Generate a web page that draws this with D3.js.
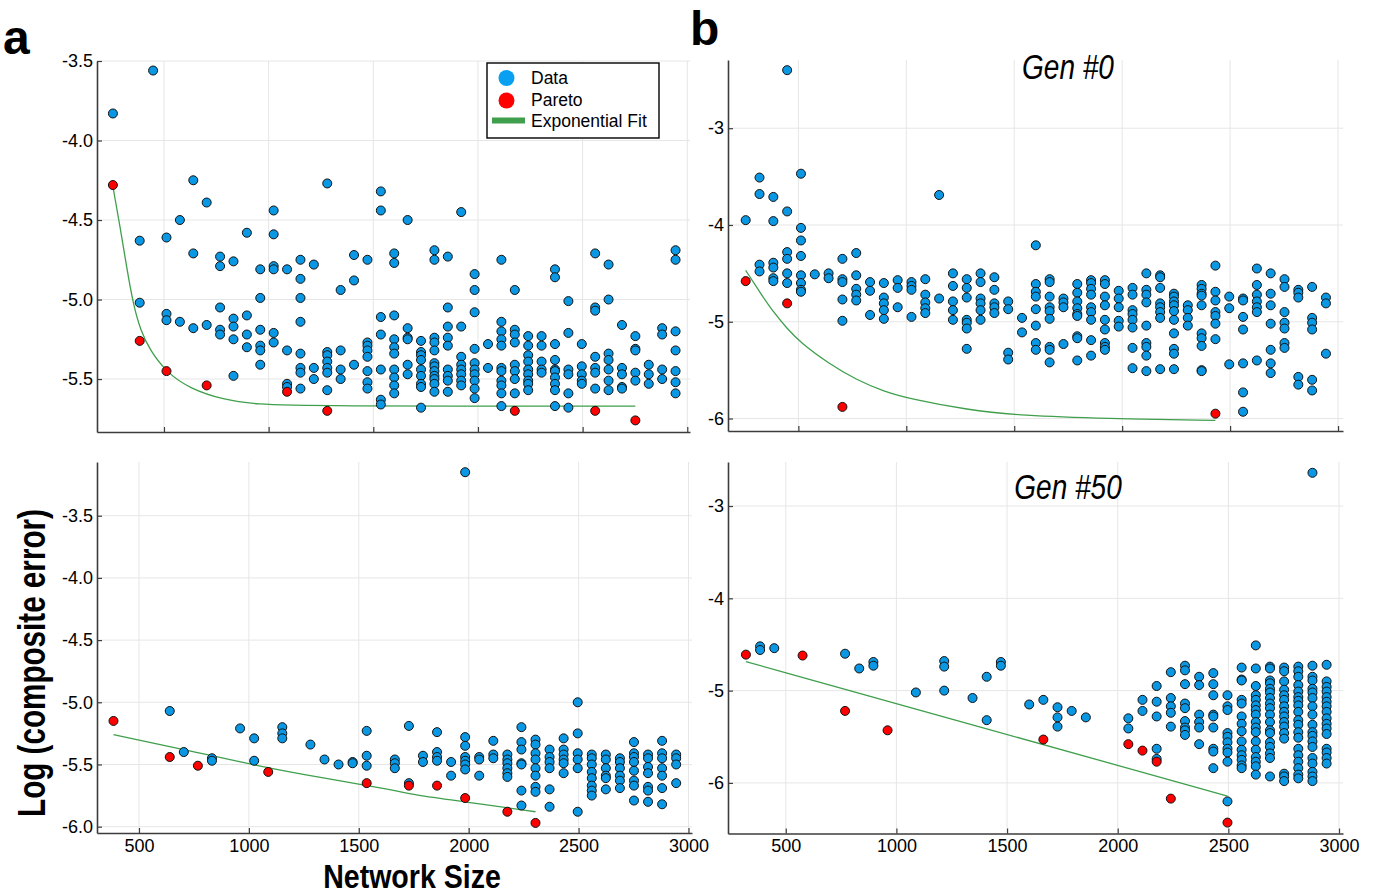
<!DOCTYPE html>
<html>
<head>
<meta charset="utf-8">
<script src="https://cdn.jsdelivr.net/npm/d3@7"></script>
<style>
  html, body { margin: 0; padding: 0; background: #fff; }
  svg { display: block; font-family: "Liberation Sans", Arial, Helvetica, sans-serif; }
</style>
</head>
<body>
<svg id="fig" width="1383" height="896"></svg>
<script>
// ---------- tick values ----------
const sizeTicks = [500, 1000, 1500, 2000, 2500, 3000];
const halfStepTicks = [-6.0, -5.5, -5.0, -4.5, -4.0, -3.5];
const unitTicks = [-6, -5, -4, -3];

// ---------- panel a, upper: [network size, [log composite error ...]] ----------
const aUpperData = [
  [256, [-3.83]],
  [384, [-4.63, -5.02]],
  [448, [-3.56]],
  [512, [-4.61, -5.09, -5.13]],
  [576, [-4.50, -5.14]],
  [640, [-4.25, -4.71, -5.18]],
  [704, [-4.39, -5.16]],
  [768, [-4.73, -4.79, -5.05, -5.19, -5.22]],
  [832, [-4.76, -5.12, -5.17, -5.25, -5.48]],
  [896, [-4.58, -5.10, -5.22, -5.30]],
  [960, [-4.81, -4.99, -5.19, -5.29, -5.32, -5.41]],
  [1024, [-4.44, -4.59, -4.79, -4.81, -5.21, -5.27]],
  [1088, [-4.81, -5.32, -5.53, -5.55]],
  [1152, [-4.75, -4.87, -4.99, -5.14, -5.34, -5.43, -5.46, -5.56]],
  [1216, [-4.78, -5.43, -5.50]],
  [1280, [-4.27, -5.33, -5.35, -5.39, -5.43, -5.46, -5.57]],
  [1344, [-4.94, -5.32, -5.44, -5.50]],
  [1408, [-4.72, -4.88, -5.41]],
  [1472, [-4.75, -5.27, -5.29, -5.32, -5.36, -5.45, -5.52, -5.56]],
  [1536, [-4.32, -4.44, -5.11, -5.22, -5.44, -5.63, -5.66]],
  [1600, [-4.71, -4.77, -5.10, -5.25, -5.30, -5.34, -5.44, -5.49, -5.54, -5.59]],
  [1664, [-4.50, -5.18, -5.24, -5.25, -5.41, -5.47]],
  [1728, [-5.26, -5.33, -5.35, -5.38, -5.44, -5.48, -5.53, -5.55, -5.68]],
  [1792, [-4.69, -4.75, -5.24, -5.27, -5.32, -5.40, -5.42, -5.45, -5.48, -5.50, -5.53, -5.58]],
  [1856, [-4.73, -5.05, -5.17, -5.24, -5.29, -5.44, -5.48, -5.51, -5.58]],
  [1920, [-4.45, -5.17, -5.36, -5.41, -5.44, -5.47, -5.51, -5.54]],
  [1984, [-4.84, -4.94, -5.08, -5.31, -5.40, -5.44, -5.47, -5.51, -5.56, -5.62]],
  [2048, [-5.28, -5.43]],
  [2112, [-4.75, -5.14, -5.20, -5.25, -5.29, -5.43, -5.45, -5.51, -5.54, -5.59, -5.67]],
  [2176, [-4.94, -5.19, -5.22, -5.27, -5.41, -5.45, -5.50, -5.59]],
  [2240, [-5.23, -5.29, -5.35, -5.39, -5.44, -5.47, -5.51, -5.53, -5.57]],
  [2304, [-5.23, -5.29, -5.39, -5.44, -5.46]],
  [2368, [-4.81, -4.86, -5.28, -5.38, -5.44, -5.45, -5.49, -5.53, -5.57, -5.67]],
  [2432, [-5.01, -5.21, -5.44, -5.47, -5.59, -5.68]],
  [2496, [-5.28, -5.42, -5.47, -5.51, -5.53]],
  [2560, [-4.71, -5.05, -5.07, -5.36, -5.43, -5.46, -5.56]],
  [2624, [-4.78, -5.00, -5.34, -5.38, -5.44, -5.51, -5.57]],
  [2688, [-5.16, -5.43, -5.47, -5.55, -5.56]],
  [2752, [-5.23, -5.31, -5.32, -5.46, -5.51]],
  [2816, [-5.41, -5.47, -5.53]],
  [2880, [-5.18, -5.22, -5.44, -5.50]],
  [2944, [-4.69, -4.75, -5.20, -5.32, -5.45, -5.52, -5.59]]
];
const aUpperPareto = [
  [256, -4.28], [384, -5.26], [512, -5.45], [704, -5.54], [1088, -5.58],
  [1280, -5.70], [2176, -5.70], [2560, -5.70], [2752, -5.76]
];
const aUpperFit = [
  [256, -4.29], [290, -4.54], [322, -4.80], [353, -5.03], [387, -5.19], [433, -5.32],
  [514, -5.46], [624, -5.56], [783, -5.63], [943, -5.66], [1181, -5.67], [2752, -5.67]
];

// ---------- panel a, lower ----------
const aLowerData = [
  [640, [-5.07]],
  [704, [-5.40]],
  [832, [-5.45, -5.47]],
  [960, [-5.21]],
  [1024, [-5.29, -5.47]],
  [1152, [-5.20, -5.25, -5.29]],
  [1280, [-5.34]],
  [1344, [-5.46]],
  [1408, [-5.50]],
  [1472, [-5.48, -5.49]],
  [1536, [-5.23, -5.43, -5.51]],
  [1664, [-5.46, -5.49, -5.53]],
  [1728, [-5.19, -5.65]],
  [1792, [-5.43, -5.48]],
  [1856, [-5.24, -5.40, -5.44, -5.47]],
  [1920, [-5.48, -5.59]],
  [1984, [-3.15, -5.28, -5.35, -5.44, -5.47, -5.50, -5.54]],
  [2048, [-5.44, -5.46, -5.59]],
  [2112, [-5.31, -5.42, -5.45]],
  [2176, [-5.42, -5.46, -5.49, -5.53, -5.57, -5.60]],
  [2240, [-5.20, -5.32, -5.38, -5.49, -5.50, -5.71, -5.83]],
  [2304, [-5.30, -5.34, -5.41, -5.46, -5.53, -5.59, -5.68, -5.72]],
  [2368, [-5.38, -5.44, -5.48, -5.53, -5.70, -5.84]],
  [2432, [-5.29, -5.38, -5.42, -5.46, -5.49, -5.57]],
  [2496, [-5.00, -5.25, -5.41, -5.46, -5.53, -5.88]],
  [2560, [-5.42, -5.45, -5.50, -5.56, -5.61, -5.67, -5.71, -5.75]],
  [2624, [-5.42, -5.46, -5.53, -5.59, -5.61, -5.70]],
  [2688, [-5.45, -5.48, -5.53, -5.59, -5.63, -5.69]],
  [2752, [-5.32, -5.41, -5.44, -5.48, -5.55, -5.63, -5.67, -5.79]],
  [2816, [-5.42, -5.45, -5.52, -5.57, -5.68, -5.71, -5.80]],
  [2880, [-5.31, -5.41, -5.45, -5.53, -5.59, -5.69, -5.82]],
  [2944, [-5.42, -5.45, -5.50, -5.65]]
];
const aLowerPareto = [
  [384, -5.15], [640, -5.44], [768, -5.51], [1088, -5.56], [1536, -5.65],
  [1728, -5.67], [1856, -5.67], [1984, -5.77], [2176, -5.88], [2304, -5.97]
];
const aLowerFit = [
  [384, -5.26], [732, -5.39], [1035, -5.51], [1339, -5.61], [1642, -5.70],
  [1748, -5.745], [1983, -5.80], [2304, -5.88]
];

// ---------- panel b, generation 0 ----------
const gen0Data = [
  [256, [-3.95]],
  [320, [-3.51, -3.68, -4.41, -4.48]],
  [384, [-3.71, -3.96, -4.39, -4.44, -4.55, -4.58]],
  [448, [-2.40, -3.86, -4.28, -4.35, -4.50, -4.60]],
  [512, [-3.47, -4.03, -4.16, -4.32, -4.52, -4.60, -4.67, -4.69]],
  [576, [-4.51]],
  [640, [-4.50, -4.55]],
  [704, [-4.35, -4.56, -4.59, -4.77, -4.99]],
  [768, [-4.29, -4.52, -4.66, -4.72, -4.78]],
  [832, [-4.59, -4.68, -4.93]],
  [896, [-4.60, -4.75, -4.81, -4.88, -4.97]],
  [960, [-4.57, -4.65, -4.85]],
  [1024, [-4.59, -4.63, -4.67, -4.95]],
  [1088, [-4.56, -4.72, -4.80, -4.86, -4.91]],
  [1152, [-3.69, -4.76]],
  [1216, [-4.50, -4.63, -4.79, -4.88, -4.98]],
  [1280, [-4.56, -4.65, -4.75, -4.98, -5.01, -5.07, -5.28]],
  [1344, [-4.50, -4.59, -4.76, -4.81, -4.88, -4.98]],
  [1408, [-4.54, -4.67, -4.81, -4.85, -4.91]],
  [1472, [-4.79, -4.87, -5.32, -5.39]],
  [1536, [-4.96, -5.11]],
  [1600, [-4.21, -4.61, -4.69, -4.74, -4.87, -5.04, -5.22, -5.29]],
  [1664, [-4.56, -4.59, -4.74, -4.85, -4.89, -4.97, -5.26, -5.29, -5.42]],
  [1728, [-4.76, -4.80, -4.85, -5.23]],
  [1792, [-4.61, -4.70, -4.79, -4.86, -4.92, -4.94, -5.15, -5.17, -5.40]],
  [1856, [-4.57, -4.60, -4.66, -4.72, -4.85, -4.90, -4.98, -5.19, -5.35]],
  [1920, [-4.57, -4.61, -4.74, -4.83, -4.98, -5.08, -5.22, -5.26, -5.29]],
  [1984, [-4.68, -4.76, -4.85, -4.99, -5.05]],
  [2048, [-4.65, -4.72, -4.88, -4.92, -4.98, -5.06, -5.27, -5.48]],
  [2112, [-4.50, -4.67, -4.72, -4.80, -5.04, -5.22, -5.26, -5.35, -5.51]],
  [2176, [-4.52, -4.54, -4.65, -4.81, -4.85, -4.90, -4.96, -5.49]],
  [2240, [-4.71, -4.74, -4.79, -4.83, -4.89, -4.98, -5.12, -5.28, -5.33, -5.49]],
  [2304, [-4.83, -4.88, -4.96, -5.04]],
  [2368, [-4.62, -4.66, -4.71, -4.73, -4.83, -5.12, -5.17, -5.25, -5.50, -5.51]],
  [2432, [-4.42, -4.69, -4.78, -4.90, -4.94, -5.02, -5.18]],
  [2496, [-4.74, -4.86, -5.44]],
  [2560, [-4.76, -4.78, -4.95, -5.08, -5.43, -5.73, -5.93]],
  [2624, [-4.45, -4.62, -4.72, -4.79, -4.85, -4.90, -5.40]],
  [2688, [-4.50, -4.71, -4.83, -5.02, -5.29, -5.43, -5.53]],
  [2752, [-4.56, -4.64, -4.90, -5.01, -5.07, -5.22, -5.27]],
  [2816, [-4.67, -4.70, -4.75, -5.57, -5.65]],
  [2880, [-4.64, -4.96, -5.01, -5.08, -5.60, -5.71]],
  [2944, [-4.75, -4.81, -5.33]]
];
const gen0Pareto = [[256, -4.58], [448, -4.81], [704, -5.88], [2432, -5.95]];
const gen0Fit = [
  [256, -4.47], [320, -4.69], [384, -4.90], [448, -5.07], [512, -5.22], [640, -5.43],
  [768, -5.60], [896, -5.72], [1024, -5.80], [1280, -5.91], [1536, -5.97], [1920, -6.00], [2432, -6.02]
];

// ---------- panel b, generation 50 ----------
const gen50Data = [
  [384, [-4.52, -4.56]],
  [448, [-4.54]],
  [768, [-4.60]],
  [832, [-4.76]],
  [896, [-4.69, -4.73]],
  [1088, [-5.02]],
  [1216, [-4.68, -4.74, -5.00]],
  [1344, [-5.08]],
  [1408, [-4.85, -5.32]],
  [1472, [-4.69, -4.73]],
  [1600, [-5.15]],
  [1664, [-5.10]],
  [1728, [-5.18, -5.29, -5.39]],
  [1792, [-5.22]],
  [1856, [-5.29]],
  [2048, [-5.30, -5.41]],
  [2112, [-5.10, -5.22]],
  [2176, [-4.95, -5.12, -5.28, -5.63, -5.74]],
  [2240, [-4.80, -5.08, -5.17, -5.24, -5.39]],
  [2304, [-4.73, -4.78, -4.93, -5.14, -5.19, -5.33, -5.40, -5.43, -5.48]],
  [2368, [-4.85, -4.94, -5.26, -5.34, -5.40, -5.58]],
  [2432, [-4.81, -4.93, -5.05, -5.26, -5.28, -5.40, -5.63, -5.66, -5.84]],
  [2496, [-5.05, -5.17, -5.21, -5.46, -5.50, -5.56, -5.63, -5.67, -5.77, -6.20]],
  [2560, [-4.75, -4.88, -4.89, -5.10, -5.14, -5.28, -5.36, -5.44, -5.55, -5.64, -5.70, -5.75, -5.81, -5.84]],
  [2624, [-4.51, -4.76, -4.95, -5.05, -5.10, -5.16, -5.21, -5.26, -5.34, -5.40, -5.45, -5.55, -5.64, -5.72, -5.77, -5.82, -5.91]],
  [2688, [-4.74, -4.76, -4.89, -4.92, -4.98, -5.02, -5.08, -5.14, -5.19, -5.26, -5.34, -5.43, -5.46, -5.56, -5.61, -5.68, -5.73, -5.93]],
  [2752, [-4.75, -4.79, -4.90, -4.99, -5.05, -5.10, -5.17, -5.23, -5.28, -5.34, -5.39, -5.46, -5.52, -5.90, -5.93, -5.98]],
  [2816, [-4.74, -4.79, -4.85, -4.94, -5.01, -5.07, -5.11, -5.16, -5.23, -5.32, -5.37, -5.45, -5.51, -5.63, -5.70, -5.77, -5.84, -5.91, -5.95]],
  [2880, [-2.64, -4.73, -4.85, -4.89, -4.98, -5.02, -5.08, -5.17, -5.26, -5.37, -5.45, -5.49, -5.55, -5.61, -5.73, -5.79, -5.88, -5.93, -5.98]],
  [2944, [-4.72, -4.90, -4.96, -5.01, -5.07, -5.12, -5.17, -5.23, -5.30, -5.36, -5.41, -5.47, -5.63, -5.67, -5.73, -5.79]]
];
const gen50Pareto = [
  [320, -4.61], [576, -4.62], [768, -5.22], [960, -5.43], [1664, -5.53],
  [2048, -5.58], [2112, -5.65], [2176, -5.77], [2240, -6.17], [2496, -6.43]
];
const gen50Fit = [[320, -4.686], [1408, -5.414], [2496, -6.142]];

// ---------- styling ----------
const BLUE = "#0a98e4";
const RED = "#ff0000";
const GREEN = "#3f9f4c";
const GRID = "#e6e6e6";
const AXIS = "#3c3c3c";
const TICK_FONT = 18;

// plain hyphen for negative tick labels
const fmt = spec => {
  const f = d3.format(spec);
  return d => f(d).replace("\u2212", "-");
};

const svg = d3.select("#fig");

function drawPanel(p) {
  const x = d3.scaleLinear().domain(p.xDomain).range([p.left, p.right]);
  const y = d3.scaleLinear().domain(p.yDomain).range([p.bottom, p.top]);
  const g = svg.append("g");

  // grid
  g.append("g").selectAll("line").data(sizeTicks).join("line")
    .attr("x1", d => x(d)).attr("x2", d => x(d))
    .attr("y1", p.top).attr("y2", p.bottom)
    .attr("stroke", GRID).attr("stroke-width", 1);
  g.append("g").selectAll("line").data(p.yTicks).join("line")
    .attr("x1", p.left).attr("x2", p.right)
    .attr("y1", d => y(d)).attr("y2", d => y(d))
    .attr("stroke", GRID).attr("stroke-width", 1);

  // exponential fit through the Pareto front
  const line = d3.line().x(d => x(d[0])).y(d => y(d[1])).curve(d3.curveBasis);
  g.append("path").datum(p.fit)
    .attr("d", line).attr("fill", "none")
    .attr("stroke", GREEN).attr("stroke-width", 1.3);

  // all networks
  const pts = p.data.flatMap(([n, vs]) => vs.map(v => [n, v]));
  g.append("g").selectAll("circle").data(pts).join("circle")
    .attr("cx", d => x(d[0])).attr("cy", d => y(d[1])).attr("r", 4.5)
    .attr("fill", BLUE).attr("stroke", "#111").attr("stroke-width", 1);

  // Pareto-optimal networks
  g.append("g").selectAll("circle").data(p.pareto).join("circle")
    .attr("cx", d => x(d[0])).attr("cy", d => y(d[1])).attr("r", 4.5)
    .attr("fill", RED).attr("stroke", "#111").attr("stroke-width", 1);

  // axes (ticks point inward)
  const xAxis = d3.axisBottom(x).tickValues(sizeTicks)
    .tickSize(-5).tickSizeOuter(0).tickPadding(6)
    .tickFormat(p.xLabels ? fmt("d") : () => "");
  const yAxis = d3.axisLeft(y).tickValues(p.yTicks)
    .tickSize(-5).tickSizeOuter(0).tickPadding(4)
    .tickFormat(fmt(p.yFormat));

  const gx = g.append("g").attr("transform", `translate(0,${p.bottom})`).call(xAxis);
  const gy = g.append("g").attr("transform", `translate(${p.left},0)`).call(yAxis);
  [gx, gy].forEach(a => {
    a.attr("font-family", null).attr("font-size", null);
    a.select(".domain").attr("stroke", AXIS).attr("stroke-width", 1.6);
    a.selectAll(".tick line").attr("stroke", AXIS).attr("stroke-width", 1.2);
    a.selectAll(".tick text").attr("fill", "#000").attr("font-size", TICK_FONT);
  });

  if (p.title) {
    svg.append("text")
      .attr("transform", `translate(${p.titleX},${p.titleY}) scale(0.8,1)`)
      .attr("text-anchor", "middle")
      .attr("font-size", 35).attr("font-style", "italic")
      .text(p.title);
  }
}

drawPanel({
  data: aUpperData, pareto: aUpperPareto, fit: aUpperFit,
  left: 97, right: 690, top: 61, bottom: 432,
  xDomain: [180, 3013], yDomain: [-5.833, -3.5],
  yTicks: halfStepTicks.filter(t => t >= -5.5), yFormat: ".1f", xLabels: false
});
drawPanel({
  data: aLowerData, pareto: aLowerPareto, fit: aLowerFit,
  left: 97, right: 692, top: 462, bottom: 833,
  xDomain: [309, 3016], yDomain: [-6.051, -3.068],
  yTicks: halfStepTicks, yFormat: ".1f", xLabels: true
});
drawPanel({
  data: gen0Data, pareto: gen0Pareto, fit: gen0Fit,
  left: 728, right: 1343, top: 60, bottom: 431,
  xDomain: [174, 3023], yDomain: [-6.129, -2.295],
  yTicks: unitTicks, yFormat: "d", xLabels: false,
  title: "Gen #0", titleX: 1068, titleY: 78.5
});
drawPanel({
  data: gen50Data, pareto: gen50Pareto, fit: gen50Fit,
  left: 728, right: 1343, top: 462, bottom: 833.5,
  xDomain: [239, 3018], yDomain: [-6.548, -2.523],
  yTicks: unitTicks, yFormat: "d", xLabels: true,
  title: "Gen #50", titleX: 1068, titleY: 498.5
});

// legend
const legend = svg.append("g");
legend.append("rect")
  .attr("x", 487).attr("y", 63).attr("width", 172).attr("height", 75)
  .attr("fill", "#fff").attr("stroke", "#000").attr("stroke-width", 1.4);
legend.append("circle").attr("cx", 506.5).attr("cy", 78).attr("r", 8).attr("fill", "#0aa0f2");
legend.append("circle").attr("cx", 506.5).attr("cy", 100.5).attr("r", 8).attr("fill", RED);
legend.append("line").attr("x1", 492).attr("x2", 525).attr("y1", 120.5).attr("y2", 120.5)
  .attr("stroke", GREEN).attr("stroke-width", 6);
[["Data", 84], ["Pareto", 106], ["Exponential Fit", 126.5]].forEach(([t, yb]) => {
  legend.append("text").attr("x", 531).attr("y", yb).attr("font-size", 17.5).text(t);
});

// panel letters and shared axis titles
svg.append("text").attr("x", 3).attr("y", 53.5)
  .attr("font-size", 48).attr("font-weight", "bold").text("a");
svg.append("text").attr("x", 690).attr("y", 44.5)
  .attr("font-size", 48).attr("font-weight", "bold").text("b");

svg.append("text")
  .attr("transform", "translate(412,888) scale(0.84,1)")
  .attr("text-anchor", "middle").attr("font-size", 34).attr("font-weight", "bold")
  .text("Network Size");
svg.append("text")
  .attr("transform", "translate(44.5,663) rotate(-90) scale(0.78,1)")
  .attr("text-anchor", "middle").attr("font-size", 38).attr("font-weight", "bold")
  .text("Log (composite error)");
</script>
</body>
</html>
